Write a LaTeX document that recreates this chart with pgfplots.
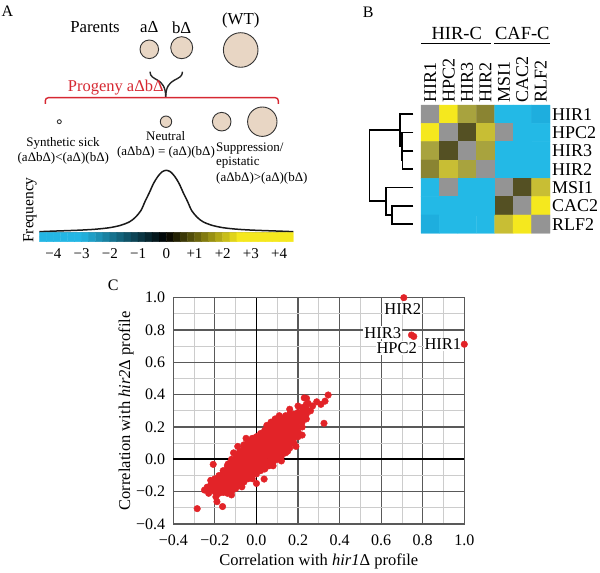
\documentclass[border=0pt]{standalone}
\usepackage{fontspec}
\setmainfont{Liberation Serif}
\usepackage{pgfplots}
\pgfplotsset{compat=1.18}
\definecolor{beige}{RGB}{232,214,196}
\definecolor{ptred}{RGB}{226,35,40}
\definecolor{brred}{RGB}{214,40,50}
\begin{document}
\begin{tikzpicture}
\path[use as bounding box] (0,0) rectangle (600pt,573pt);

% ---------------- Panel C : scatter ----------------
\begin{axis}[at={(173.3pt,49pt)}, anchor=south west, scale only axis,
  width=291pt, height=226.3pt,
  xmin=-0.4, xmax=1.0, ymin=-0.4, ymax=1.0,
  xtick={-0.4,-0.2,0,0.2,0.4,0.6,0.8,1.0},
  ytick={-0.4,-0.2,0,0.2,0.4,0.6,0.8,1.0},
  xticklabels={−0.4,−0.2,0.0,0.2,0.4,0.6,0.8,1.0},
  yticklabels={−0.4,−0.2,0.0,0.2,0.4,0.6,0.8,1.0},
  minor xtick={-0.3,-0.1,0.1,0.3,0.5,0.7,0.9},
  minor ytick={-0.3,-0.1,0.1,0.3,0.5,0.7,0.9},
  grid=both,
  major grid style={draw=black!65, line width=1.1pt},
  minor grid style={draw=black!20, line width=0.8pt},
  axis line style={draw=black!65, line width=1.1pt},
  major tick length=0pt, minor tick length=0pt,
  tick label style={font=\fontsize{16}{16}\selectfont},
  xticklabel style={yshift=-7pt},
  yticklabel style={xshift=-4.7pt},
  xlabel={Correlation with \textit{hir1}Δ profile},
  ylabel={Correlation with \textit{hir2}Δ profile},
  label style={font=\fontsize{16.5}{16.5}\selectfont},
  xlabel style={at={(axis description cs:0.5,-0.166)}, anchor=center},
  ylabel style={at={(axis description cs:-0.162,0.5)}, anchor=center},
  clip=false]
\addplot[black, line width=1.8pt] coordinates {(-0.4,0) (1.0,0)};
\addplot[black, line width=1.8pt] coordinates {(0,-0.4) (0,1.0)};
\addplot[only marks, mark=*, mark size=3.3pt, color=ptred] coordinates {
(-0.22,-0.19) (-0.22,-0.16) (-0.22,-0.13)
(-0.20,-0.20) (-0.20,-0.17) (-0.20,-0.14) (-0.20,-0.12)
(-0.18,-0.21) (-0.18,-0.18) (-0.18,-0.15) (-0.18,-0.12) (-0.18,-0.10)
(-0.16,-0.205) (-0.16,-0.175) (-0.16,-0.145) (-0.16,-0.115) (-0.16,-0.085) (-0.16,-0.07)
(-0.14,-0.21) (-0.14,-0.18) (-0.14,-0.15) (-0.14,-0.12) (-0.14,-0.09) (-0.14,-0.06) (-0.14,-0.04)
(-0.12,-0.20) (-0.12,-0.17) (-0.12,-0.14) (-0.12,-0.11) (-0.12,-0.08) (-0.12,-0.05) (-0.12,-0.02) (-0.12,0.00)
(-0.10,-0.18) (-0.10,-0.15) (-0.10,-0.12) (-0.10,-0.09) (-0.10,-0.06) (-0.10,-0.03) (-0.10,0.00) (-0.10,0.03)
(-0.08,-0.16) (-0.08,-0.13) (-0.08,-0.10) (-0.08,-0.07) (-0.08,-0.04) (-0.08,-0.01) (-0.08,0.02) (-0.08,0.05)
(-0.06,-0.14) (-0.06,-0.11) (-0.06,-0.08) (-0.06,-0.05) (-0.06,-0.02) (-0.06,0.01) (-0.06,0.04) (-0.06,0.07) (-0.06,0.09)
(-0.04,-0.12) (-0.04,-0.09) (-0.04,-0.06) (-0.04,-0.03) (-0.04,0.00) (-0.04,0.03) (-0.04,0.06) (-0.04,0.09) (-0.04,0.11)
(-0.02,-0.10) (-0.02,-0.07) (-0.02,-0.04) (-0.02,-0.01) (-0.02,0.02) (-0.02,0.05) (-0.02,0.08) (-0.02,0.11) (-0.02,0.13)
(0.00,-0.09) (0.00,-0.06) (0.00,-0.03) (0.00,0.00) (0.00,0.03) (0.00,0.06) (0.00,0.09) (0.00,0.12) (0.00,0.14)
(0.02,-0.07) (0.02,-0.04) (0.02,-0.01) (0.02,0.02) (0.02,0.05) (0.02,0.08) (0.02,0.11) (0.02,0.14) (0.02,0.16)
(0.04,-0.06) (0.04,-0.03) (0.04,0.00) (0.04,0.03) (0.04,0.06) (0.04,0.09) (0.04,0.12) (0.04,0.15) (0.04,0.18)
(0.06,-0.04) (0.06,-0.01) (0.06,0.02) (0.06,0.05) (0.06,0.08) (0.06,0.11) (0.06,0.14) (0.06,0.17) (0.06,0.19)
(0.08,-0.02) (0.08,0.01) (0.08,0.04) (0.08,0.07) (0.08,0.10) (0.08,0.13) (0.08,0.16) (0.08,0.19) (0.08,0.21)
(0.10,0.00) (0.10,0.03) (0.10,0.06) (0.10,0.09) (0.10,0.12) (0.10,0.15) (0.10,0.18) (0.10,0.21) (0.10,0.23)
(0.12,0.02) (0.12,0.05) (0.12,0.08) (0.12,0.11) (0.12,0.14) (0.12,0.17) (0.12,0.20) (0.12,0.23) (0.12,0.25)
(0.14,0.04) (0.14,0.07) (0.14,0.10) (0.14,0.13) (0.14,0.16) (0.14,0.19) (0.14,0.22) (0.14,0.25) (0.14,0.27)
(0.16,0.07) (0.16,0.10) (0.16,0.13) (0.16,0.16) (0.16,0.19) (0.16,0.22) (0.16,0.25) (0.16,0.28)
(0.18,0.10) (0.18,0.13) (0.18,0.16) (0.18,0.19) (0.18,0.22) (0.18,0.25) (0.18,0.28)
(0.20,0.14) (0.20,0.17) (0.20,0.20) (0.20,0.23) (0.20,0.26) (0.20,0.29)
(0.22,0.20) (0.22,0.23) (0.22,0.26) (0.22,0.29) (0.22,0.32)
(0.24,0.25) (0.24,0.28) (0.24,0.31) (0.24,0.34)
(-0.285,-0.305) (-0.25,-0.19) (-0.237,-0.172) (-0.23,-0.21) (-0.208,-0.031)
(-0.195,-0.232) (-0.19,-0.262) (-0.163,-0.292) (-0.136,-0.028) (-0.11,0.04)
(-0.09,0.08) (-0.05,0.13) (0.0,-0.149) (0.037,-0.122) (0.05,0.21) (0.07,0.23)
(0.09,0.25) (0.11,0.27) (0.15,0.05) (0.19,0.08) (0.22,0.15) (0.23,0.38)
(0.241,0.377) (0.249,0.346) (0.26,0.30) (0.27,0.33) (0.29,0.356) (0.31,0.34)
(0.33,0.36) (0.345,0.398) (0.325,0.223) (0.12,-0.01) (0.08,-0.04) (-0.02,-0.12)
(-0.07,-0.17) (-0.12,-0.22) (0.16,0.31) (0.20,0.33)
(0.709,1.0) (0.746,0.769) (0.757,0.760) (1.0,0.712)
};
\node[fill=white, inner sep=1pt, font=\fontsize{16.5}{16.5}\selectfont] at (axis cs:0.704,0.93) {HIR2};
\node[fill=white, inner sep=1pt, font=\fontsize{16.5}{16.5}\selectfont] at (axis cs:0.608,0.782) {HIR3};
\node[fill=white, inner sep=1pt, font=\fontsize{16.5}{16.5}\selectfont] at (axis cs:0.675,0.689) {HPC2};
\node[fill=white, inner sep=1pt, font=\fontsize{16.5}{16.5}\selectfont] at (axis cs:0.897,0.713) {HIR1};
\end{axis}

% ---------------- Panel B : heatmap ----------------
\begin{axis}[at={(421pt,339.7pt)}, anchor=south west, scale only axis,
  width=129pt, height=128.3pt,
  xmin=-0.5, xmax=6.5, ymin=-0.5, ymax=6.5, y dir=reverse,
  axis line style={draw=none}, major tick length=0pt,
  xtick={0,...,6}, xticklabels={HIR1,HPC2,HIR3,HIR2,MSI1,CAC2,RLF2},
  xticklabel pos=upper,
  xticklabel style={rotate=90, anchor=west, inner sep=2pt, font=\fontsize{18}{18}\selectfont},
  ytick={0,...,6}, yticklabels={HIR1,HPC2,HIR3,HIR2,MSI1,CAC2,RLF2},
  yticklabel pos=upper,
  yticklabel style={anchor=west, inner sep=2pt, font=\fontsize{18}{18}\selectfont},
  colormap={hm}{rgb255=(148,148,148) rgb255=(245,232,30) rgb255=(200,190,52) rgb255=(168,163,62) rgb255=(138,132,50) rgb255=(84,80,35) rgb255=(35,185,230) rgb255=(30,174,222)},
  colormap access=direct,
  clip=false]
\addplot[matrix plot*, mesh/cols=7, point meta=explicit] table[meta=c] {
x y c
0 0 0
1 0 1
2 0 3
3 0 4
4 0 6
5 0 6
6 0 7
0 1 1
1 1 0
2 1 5
3 1 2
4 1 0
5 1 6
6 1 6
0 2 3
1 2 5
2 2 0
3 2 3
4 2 6
5 2 6
6 2 6
0 3 4
1 3 2
2 3 3
3 3 0
4 3 6
5 3 6
6 3 6
0 4 6
1 4 0
2 4 6
3 4 6
4 4 0
5 4 5
6 4 2
0 5 6
1 5 6
2 5 6
3 5 6
4 5 5
5 5 0
6 5 1
0 6 7
1 6 6
2 6 6
3 6 6
4 6 2
5 6 1
6 6 0
};
% dendrogram
\addplot[black, line width=1.8pt] coordinates {(-0.92,2) (-1.50,2) (-1.50,3) (-0.92,3)};
\addplot[black, line width=1.8pt] coordinates {(-0.92,1) (-1.55,1) (-1.55,2.5) (-1.50,2.5)};
\addplot[black, line width=1.8pt] coordinates {(-0.92,0) (-1.64,0) (-1.64,1.75) (-1.55,1.75)};
\addplot[black, line width=1.8pt] coordinates {(-1.64,0.875) (-3.30,0.875) (-3.30,4.75) (-2.40,4.75)};
\addplot[black, line width=1.8pt] coordinates {(-0.92,4) (-2.40,4) (-2.40,5.5) (-2.09,5.5)};
\addplot[black, line width=1.8pt] coordinates {(-0.92,5) (-2.09,5) (-2.09,6) (-0.92,6)};
\end{axis}

% ---------------- Panel A : frequency curve ----------------
\begin{axis}[at={(39.3pt,340.7pt)}, anchor=south west, scale only axis,
  width=254pt, height=62pt, xmin=-4.5, xmax=4.5, ymin=0, ymax=1,
  hide axis, clip=false]
\addplot[black!45, line width=0.8pt] coordinates {(-4.5,0) (4.5,0)};
\addplot[black!90, line width=1.5pt, smooth] coordinates {
(-4.5,0.01) (-4,0.019) (-3.5,0.027) (-3,0.036) (-2.5,0.05) (-2,0.075)
(-1.6,0.115) (-1.3,0.17) (-1.1,0.24) (-0.9,0.35) (-0.75,0.5) (-0.6,0.64)
(-0.45,0.79) (-0.3,0.9) (-0.15,0.975) (0,1)
(0.15,0.975) (0.3,0.9) (0.45,0.79) (0.6,0.64) (0.75,0.5) (0.9,0.35)
(1.1,0.24) (1.3,0.17) (1.6,0.115) (2,0.075) (2.5,0.05) (3,0.036) (3.5,0.027) (4,0.019) (4.5,0.01)};
\end{axis}

% ---------------- Panel A : colour bar ----------------
\begin{axis}[at={(39.3pt,331.3pt)}, anchor=south west, scale only axis,
  width=254pt, height=9.4pt, xmin=-4.5, xmax=4.5, ymin=-0.5, ymax=1.5,
  axis line style={draw=none}, major tick length=0pt, ytick=\empty,
  xtick={-4,-3,-2,-1,0,1,2,3,4},
  xticklabels={−4,−3,−2,−1,0,+1,+2,+3,+4},
  xticklabel style={font=\fontsize{15}{15}\selectfont, yshift=-3.3pt},
  colormap={cb}{rgb255(0)=(35,182,228) rgb255(15)=(35,182,228) rgb255(45)=(0,0,0) rgb255(71)=(245,232,30) rgb255(90)=(245,232,30)},
  point meta min=-4.5, point meta max=4.5]
\addplot[matrix plot*, mesh/cols=36, point meta=x] coordinates {
(-4.375,0) (-4.125,0) (-3.875,0) (-3.625,0) (-3.375,0) (-3.125,0) (-2.875,0) (-2.625,0) (-2.375,0)
(-2.125,0) (-1.875,0) (-1.625,0) (-1.375,0) (-1.125,0) (-0.875,0) (-0.625,0) (-0.375,0) (-0.125,0)
(0.125,0) (0.375,0) (0.625,0) (0.875,0) (1.125,0) (1.375,0) (1.625,0) (1.875,0) (2.125,0)
(2.375,0) (2.625,0) (2.875,0) (3.125,0) (3.375,0) (3.625,0) (3.875,0) (4.125,0) (4.375,0)
(-4.375,1) (-4.125,1) (-3.875,1) (-3.625,1) (-3.375,1) (-3.125,1) (-2.875,1) (-2.625,1) (-2.375,1)
(-2.125,1) (-1.875,1) (-1.625,1) (-1.375,1) (-1.125,1) (-0.875,1) (-0.625,1) (-0.375,1) (-0.125,1)
(0.125,1) (0.375,1) (0.625,1) (0.875,1) (1.125,1) (1.375,1) (1.625,1) (1.875,1) (2.125,1)
(2.375,1) (2.625,1) (2.875,1) (3.125,1) (3.375,1) (3.625,1) (3.875,1) (4.125,1) (4.375,1)};
\end{axis}

% ---------------- decorations and texts (pixel coordinates, y down) ----------------
\begin{scope}[shift={(0pt,573pt)}, x=1pt, y=-1pt]
\node[font=\fontsize{16}{16}\selectfont] at (7.3,11.7) {A};
\node[font=\fontsize{16}{16}\selectfont] at (368.3,12.7) {B};
\node[font=\fontsize{16}{16}\selectfont] at (113.3,285) {C};
% panel B group labels
\node[font=\fontsize{18.5}{18.5}\selectfont] at (456.7,33.3) {HIR-C};
\node[font=\fontsize{18.5}{18.5}\selectfont] at (522.3,33.3) {CAF-C};
\draw[line width=1.2pt] (421,43.3) -- (490.7,43.3);
\draw[line width=1.2pt] (494,43.3) -- (550,43.3);
% panel A
\node[font=\fontsize{16.8}{16.8}\selectfont] at (95,27.3) {Parents};
\node[font=\fontsize{16.8}{16.8}\selectfont] at (149.3,27.3) {aΔ};
\node[font=\fontsize{16.8}{16.8}\selectfont] at (181.7,27.3) {bΔ};
\node[font=\fontsize{16.8}{16.8}\selectfont] at (240.7,20.7) {(WT)};
\draw[fill=beige, draw=black!80, line width=0.9pt] (149.3,49.3) circle[radius=9.3pt];
\draw[fill=beige, draw=black!80, line width=0.9pt] (181.7,47.7) circle[radius=11pt];
\draw[fill=beige, draw=black!80, line width=0.9pt] (240.7,50) circle[radius=17.3pt];
\draw[black!85, line width=1.4pt] (150,71.7) .. controls (150,82) and (165.7,76) .. (165.7,97);
\draw[black!85, line width=1.4pt] (182.5,71.7) .. controls (182.5,82) and (165.7,76) .. (165.7,97);
\draw[brred, line width=1.4pt, rounded corners=3pt] (45.3,104) -- (45.3,97.7) -- (278.3,97.7) -- (278.3,104);
\node[brred, font=\fontsize{16.5}{16.5}\selectfont] at (115.8,87.3) {Progeny aΔbΔ};
\draw[fill=white, draw=black!80, line width=0.9pt] (59.3,121.7) circle[radius=2pt];
\draw[fill=beige, draw=black!80, line width=0.9pt] (166,121.7) circle[radius=5.7pt];
\draw[fill=beige, draw=black!80, line width=0.9pt] (221.7,121.7) circle[radius=9.3pt];
\draw[fill=beige, draw=black!80, line width=0.9pt] (262.3,121.7) circle[radius=14.7pt];
\begin{scope}[font=\fontsize{13}{13}\selectfont]
\node at (63,143.3) {Synthetic sick};
\node at (63.3,158.3) {(aΔbΔ)<(aΔ)(bΔ)};
\node at (165.7,136.5) {Neutral};
\node at (166,152.7) {(aΔbΔ) = (aΔ)(bΔ)};
\node[anchor=west, inner sep=0pt] at (216,148.3) {Suppression/};
\node[anchor=west, inner sep=0pt] at (216,162.7) {epistatic};
\node[anchor=west, inner sep=0pt] at (216,178.3) {(aΔbΔ)>(aΔ)(bΔ)};
\end{scope}
\node[rotate=90, font=\fontsize{15.5}{15.5}\selectfont] at (30,210) {Frequency};
\end{scope}
\end{tikzpicture}
\end{document}
